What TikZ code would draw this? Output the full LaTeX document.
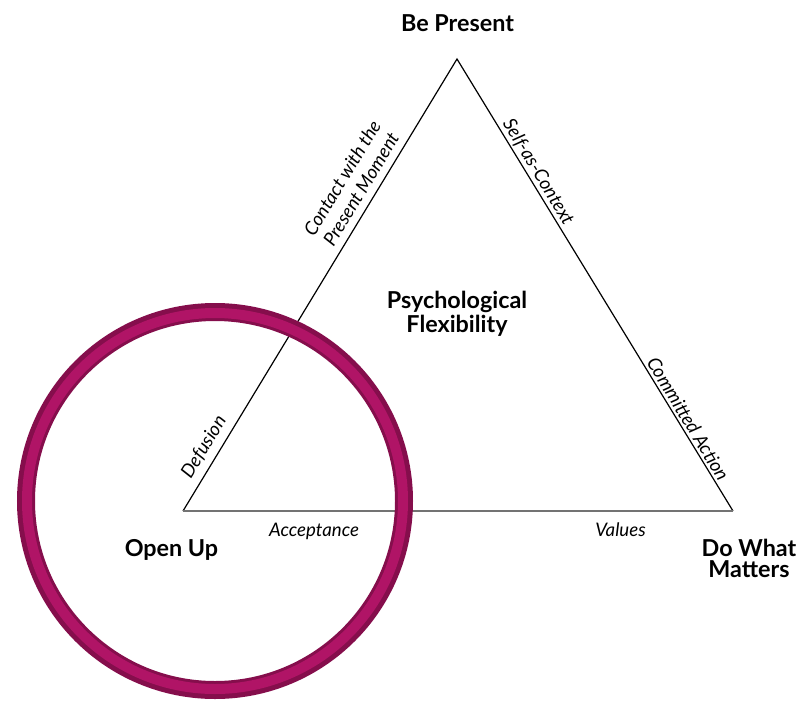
\documentclass[tikz,border=0pt]{standalone}
\usepackage{fontspec}
\setmainfont{Lato}
\usetikzlibrary{calc}
\begin{document}
\begin{tikzpicture}[x=0.75pt,y=-0.75pt,
  side/.style={draw=black,line width=0.9pt},
  base/.style={draw=black!55,line width=1.6pt},
  vlabel/.style={font=\bfseries\fontsize{17.5}{21}\selectfont,inner sep=0pt,anchor=base},
  elabel/.style={font=\itshape\fontsize{14}{16.5}\selectfont,align=center,inner sep=0pt},
]
\useasboundingbox (0,0) rectangle (807,707);
\definecolor{ringdark}{HTML}{850E4C}
\definecolor{ringmid}{HTML}{B01466}
\coordinate (T) at (457,59);
\coordinate (L) at (183,511);
\coordinate (R) at (733,511);
\coordinate (C) at (215,501);
\draw[side] (L) -- (T) -- (R);
\draw[base] (L) -- (R);
% edge labels
\node[elabel,rotate=58.8] (defusion) at ($(L)!0.124!(T)!11.5pt!90:(T)$) {Defusion};
\node[elabel,rotate=58.8] (contact) at ($(L)!0.695!(T)!19.3pt!90:(T)$) {Contact with the\\Present Moment};
\node[elabel,rotate=-58.8] (sac) at ($(T)!0.262!(R)!7.8pt!90:(R)$) {Self-as-Context};
\node[elabel,rotate=-58.8] (commit) at ($(T)!0.807!(R)!7.4pt!90:(R)$) {Committed Action};
\node[elabel,anchor=base] (accept) at (314,536) {Acceptance};
\node[elabel,anchor=base] (values) at (620.5,536) {Values};
% vertex labels
\node[vlabel] (bepresent) at (457.5,31.5) {Be Present};
\node[vlabel] (psych) at (457,308) {Psychological};
\node[vlabel] (flex) at (457,332) {Flexibility};
\node[vlabel] (openup) at (171.5,556) {Open Up};
\node[vlabel] (dowhat) at (749,556) {Do What};
\node[vlabel] (matters) at (749,577) {Matters};
% ring
\draw[ringdark,line width=13.5pt] (C) circle[radius=189];
\draw[ringmid,line width=7.5pt] (C) circle[radius=188];
\end{tikzpicture}
\end{document}
